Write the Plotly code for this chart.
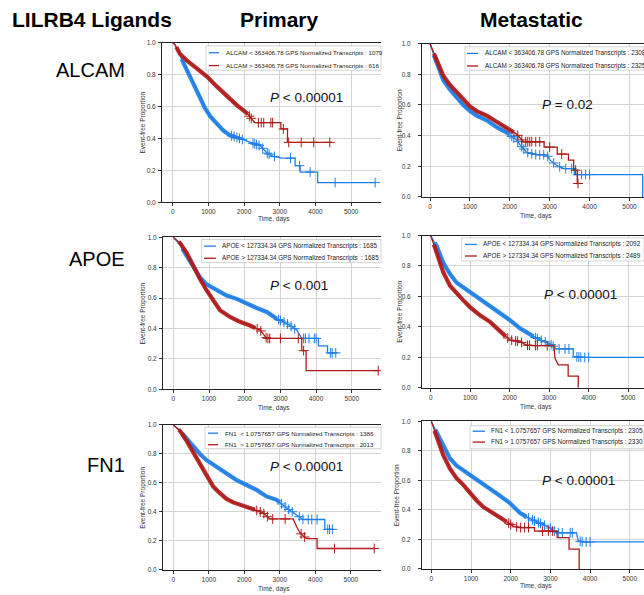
import numpy as np
import plotly.graph_objects as go

W, H = 644, 595
BLUE = "#1f7fe6"
RED = "#b01a1a"
FONT = "Liberation Sans, Arial, sans-serif"

# ---------------- labels ----------------
genes = ["ALCAM", "APOE", "FN1"]
cohorts = ["Primary", "Metastatic"]
figure_title = "LILRB4 Ligands"
p_values = ["<i>P</i> &lt; 0.00001", "<i>P</i> = 0.02",
            "<i>P</i> &lt; 0.001", "<i>P</i> &lt; 0.00001",
            "<i>P</i> &lt; 0.00001", "<i>P</i> &lt; 0.00001"]
legend_lo = ["ALCAM &lt; 363406.78 GPS Normalized Transcripts : 1079",
             "ALCAM &lt; 363406.78 GPS Normalized Transcripts : 2308",
             "APOE &lt; 127334.34 GPS Normalized Transcripts : 1685",
             "APOE &lt; 127334.34 GPS Normalized Transcripts : 2092",
             "FN1  &lt; 1.0757657 GPS Normalized Transcripts : 1386",
             "FN1 &lt; 1.0757657 GPS Normalized Transcripts : 2305"]
legend_hi = ["ALCAM &gt; 363406.78 GPS Normalized Transcripts : 616",
             "ALCAM &gt; 363406.78 GPS Normalized Transcripts : 2325",
             "APOE &gt; 127334.34 GPS Normalized Transcripts  : 1685",
             "APOE &gt; 127334.34 GPS Normalized Transcripts : 2489",
             "FN1  &gt; 1.0757657 GPS Normalized Transcripts : 2013",
             "FN1 &gt; 1.0757657 GPS Normalized Transcripts : 2330"]
x_ticks = [0, 1000, 2000, 3000, 4000, 5000]
y_ticks = [0.0, 0.2, 0.4, 0.6, 0.8, 1.0]

# ---------------- Kaplan-Meier curves (time in days, event-free proportion) ----------------
# ALCAM primary
alcam_pri_lo_t = [0, 60, 205, 392, 580, 766, 906, 1047, 1234, 1420, 1607, 1888, 2168, 2449, 2560, 2636, 2800, 2916, 3056, 3430, 3430, 3570, 3570, 4060, 4060, 5700]
alcam_pri_lo_s = [1.0, 0.99, 0.92, 0.83, 0.75, 0.665, 0.59, 0.54, 0.49, 0.45, 0.42, 0.40, 0.376, 0.355, 0.33, 0.31, 0.29, 0.283, 0.277, 0.277, 0.23, 0.23, 0.19, 0.19, 0.124, 0.124]
alcam_pri_lo_cens = [1650, 1720, 1800, 1870, 1950, 2250, 2300, 2350, 2420, 2520, 2650, 2700, 2850, 3300, 3550, 3850, 4550, 5670]
alcam_pri_hi_t = [0, 60, 205, 392, 673, 953, 1234, 1514, 1794, 2075, 2262, 2300, 3030, 3030, 3215, 3215, 4460]
alcam_pri_hi_s = [1.0, 0.99, 0.93, 0.89, 0.84, 0.79, 0.727, 0.665, 0.61, 0.56, 0.51, 0.50, 0.50, 0.46, 0.46, 0.376, 0.376]
alcam_pri_hi_cens = [2150, 2200, 2400, 2480, 2550, 2750, 2800, 3100, 3250, 3600, 3950, 4400]

# ALCAM metastatic
alcam_met_lo_t = [0, 167, 334, 502, 669, 836, 1003, 1171, 1421, 1672, 1923, 2174, 2258, 2425, 2676, 2926, 3010, 3177, 3344, 3620, 3620, 5330, 5330]
alcam_met_lo_s = [1.0, 0.87, 0.76, 0.70, 0.646, 0.60, 0.56, 0.53, 0.50, 0.455, 0.42, 0.37, 0.34, 0.29, 0.275, 0.275, 0.24, 0.206, 0.185, 0.185, 0.146, 0.146, 0.0]
alcam_met_lo_cens = [2050, 2100, 2200, 2300, 2350, 2450, 2550, 2650, 2750, 2850, 2950, 3100, 3250, 3400, 3550, 3700, 3800, 3900, 4000]
alcam_met_hi_t = [0, 167, 334, 502, 669, 836, 1003, 1171, 1421, 1672, 1923, 2174, 2341, 2860, 2860, 3190, 3190, 3470, 3470, 3600, 3600, 3690, 3690, 3720]
alcam_met_hi_s = [1.0, 0.89, 0.79, 0.73, 0.68, 0.635, 0.59, 0.56, 0.53, 0.49, 0.45, 0.41, 0.36, 0.36, 0.325, 0.325, 0.28, 0.28, 0.24, 0.24, 0.175, 0.175, 0.088, 0.088]
alcam_met_hi_cens = [2200, 2300, 2400, 2450, 2500, 2550, 2650, 2750, 3000, 3300, 3650, 3710]

# APOE primary
apoe_pri_lo_t = [0, 187, 374, 560, 748, 935, 1215, 1495, 1776, 2056, 2336, 2617, 2897, 3178, 3458, 3600, 4065, 4065, 4320, 4320, 4600]
apoe_pri_lo_s = [1.0, 0.95, 0.877, 0.80, 0.736, 0.69, 0.65, 0.617, 0.595, 0.563, 0.535, 0.509, 0.465, 0.433, 0.39, 0.335, 0.335, 0.286, 0.286, 0.24, 0.24]
apoe_pri_lo_cens = [2950, 3000, 3100, 3200, 3300, 3400, 3650, 3700, 3800, 3950, 4000, 4400, 4450, 4550]
apoe_pri_hi_t = [0, 187, 374, 560, 748, 935, 1121, 1308, 1589, 1869, 2150, 2430, 2617, 3598, 3598, 3720, 3720, 5750]
apoe_pri_hi_s = [1.0, 0.963, 0.898, 0.81, 0.725, 0.65, 0.584, 0.52, 0.476, 0.444, 0.42, 0.39, 0.335, 0.335, 0.255, 0.255, 0.123, 0.123]
apoe_pri_hi_cens = [2350, 2450, 2600, 2650, 2700, 3000, 3500, 3650, 5740]

# APOE metastatic
apoe_met_lo_t = [0, 152, 320, 489, 658, 826, 995, 1248, 1501, 1754, 2007, 2260, 2513, 2766, 3019, 3187, 3609, 3609, 3862, 5400]
apoe_met_lo_s = [1.0, 0.93, 0.82, 0.747, 0.69, 0.66, 0.628, 0.584, 0.54, 0.494, 0.444, 0.39, 0.35, 0.314, 0.29, 0.255, 0.255, 0.205, 0.199, 0.199]
apoe_met_lo_cens = [2650, 2700, 2800, 2900, 3050, 3100, 3250, 3400, 3500, 3700, 3750, 3800, 3900, 4000]
apoe_met_hi_t = [0, 152, 320, 489, 658, 826, 995, 1248, 1501, 1754, 2007, 2260, 2428, 2597, 3120, 3145, 3229, 3480, 3480, 3735, 3735]
apoe_met_hi_s = [1.0, 0.887, 0.758, 0.67, 0.617, 0.574, 0.53, 0.476, 0.433, 0.37, 0.314, 0.303, 0.28, 0.277, 0.277, 0.195, 0.15, 0.15, 0.076, 0.076, 0.0]
apoe_met_hi_cens = [1950, 2050, 2150, 2200, 2300, 2450, 2500, 2650, 2700, 2950]

# FN1 primary
fn1_pri_lo_t = [0, 188, 375, 563, 750, 938, 1220, 1501, 1782, 2064, 2345, 2627, 2908, 3190, 3471, 3659, 4268, 4268, 4503]
fn1_pri_lo_s = [1.0, 0.96, 0.905, 0.848, 0.80, 0.757, 0.71, 0.666, 0.62, 0.586, 0.552, 0.507, 0.484, 0.427, 0.382, 0.348, 0.348, 0.28, 0.28]
fn1_pri_lo_cens = [3050, 3150, 3250, 3350, 3550, 3650, 3800, 3900, 4050, 4350, 4400, 4480]
fn1_pri_hi_t = [0, 188, 375, 563, 750, 938, 1126, 1313, 1501, 1689, 1970, 2251, 2533, 2720, 3377, 3471, 3565, 3752, 4050, 4050, 5675]
fn1_pri_hi_s = [1.0, 0.96, 0.89, 0.81, 0.734, 0.643, 0.575, 0.53, 0.49, 0.466, 0.44, 0.42, 0.393, 0.352, 0.352, 0.30, 0.257, 0.216, 0.216, 0.148, 0.148]
fn1_pri_hi_cens = [2350, 2450, 2550, 2650, 2800, 3150, 3600, 3700, 4540, 5660]

# FN1 metastatic
fn1_met_lo_t = [0, 134, 302, 470, 638, 805, 973, 1225, 1477, 1728, 1980, 2231, 2483, 2735, 2987, 3154, 3658, 3700, 3825, 5400]
fn1_met_lo_s = [1.0, 0.926, 0.826, 0.748, 0.70, 0.67, 0.636, 0.59, 0.547, 0.496, 0.446, 0.38, 0.34, 0.31, 0.28, 0.245, 0.245, 0.19, 0.183, 0.183]
fn1_met_lo_cens = [2450, 2550, 2600, 2700, 2750, 2850, 3000, 3100, 3200, 3300, 3500, 3550, 3750, 3800, 3900, 4000]
fn1_met_hi_t = [0, 134, 302, 470, 638, 805, 973, 1141, 1309, 1560, 1812, 2064, 2231, 2600, 2600, 3170, 3170, 3470, 3470, 3725, 3725]
fn1_met_hi_s = [1.0, 0.893, 0.77, 0.68, 0.614, 0.57, 0.513, 0.464, 0.42, 0.38, 0.335, 0.29, 0.28, 0.28, 0.257, 0.257, 0.212, 0.212, 0.134, 0.134, 0.0]
fn1_met_hi_cens = [1950, 2000, 2150, 2250, 2350, 2450, 2800, 2950, 3050]

# time spans where censoring ticks are so dense they merge into a thick band
dense_lo = [(250, 1750), (100, 2000), (250, 2900), (100, 2600), (250, 3000), (100, 2400)]
dense_hi = [(100, 2100), (100, 2100), (150, 2300), (80, 1900), (150, 2300), (80, 1900)]

curves_lo = [(alcam_pri_lo_t, alcam_pri_lo_s, alcam_pri_lo_cens), (alcam_met_lo_t, alcam_met_lo_s, alcam_met_lo_cens),
             (apoe_pri_lo_t, apoe_pri_lo_s, apoe_pri_lo_cens), (apoe_met_lo_t, apoe_met_lo_s, apoe_met_lo_cens),
             (fn1_pri_lo_t, fn1_pri_lo_s, fn1_pri_lo_cens), (fn1_met_lo_t, fn1_met_lo_s, fn1_met_lo_cens)]
curves_hi = [(alcam_pri_hi_t, alcam_pri_hi_s, alcam_pri_hi_cens), (alcam_met_hi_t, alcam_met_hi_s, alcam_met_hi_cens),
             (apoe_pri_hi_t, apoe_pri_hi_s, apoe_pri_hi_cens), (apoe_met_hi_t, apoe_met_hi_s, apoe_met_hi_cens),
             (fn1_pri_hi_t, fn1_pri_hi_s, fn1_pri_hi_cens), (fn1_met_hi_t, fn1_met_hi_s, fn1_met_hi_cens)]

# ---------------- layout geometry (pixels) ----------------
# left spine, right edge, top (y=1), bottom (y=0), pixel of t=0, pixels per 1000 days
geom = [(162, 381, 39.3, 200.7, 172.7, 35.7),
        (422, 644, 40.0, 195.3, 430.0, 39.9),
        (163, 381, 236.0, 390.0, 173.3, 35.7),
        (422, 644, 234.3, 388.3, 430.7, 39.5),
        (163, 381, 426.0, 572.7, 173.3, 35.5),
        (422, 644, 422.3, 571.7, 431.3, 39.7)]
# legend: box left, box top, box bottom, sample x0, sample x1, text x, row1 y, row2 y, font size
leg_geom = [(206, 42.5, 67.0, 209, 219, 224, 49.3, 62.3, 6.2),
            (465, 43.3, 67.0, 467, 478, 483, 50.0, 62.7, 6.35),
            (201.7, 238.3, 261.7, 204, 216, 220, 245.0, 257.3, 6.3),
            (461.7, 236.7, 260.0, 465, 477, 481, 243.3, 255.0, 6.4),
            (205, 428.3, 450.0, 208, 218, 223, 434.3, 446.0, 6.2),
            (470, 426.7, 450.0, 472.7, 485, 489, 432.3, 443.3, 6.4)]
pval_pos = [(306, 95), (567.5, 101.7), (299, 285), (580, 294.3), (306.5, 468.3), (578, 482.3)]
xtitle_pos = [(274, 218), (536, 215), (274, 409), (536, 407.5), (274, 591.5), (536, 588.5)]
ytitle_x = [143, 400, 143.3, 400, 143.3, 397]


def px(x):
    return x / W


def py(y):
    return 1 - y / H


fig = go.Figure()
shapes, annotations = [], []


def add_curve(i, t, s, cens, dense, color):
    ax = "" if i == 0 else str(i + 1)
    t = np.asarray(t, float)
    s = np.asarray(s, float)
    # thick band where censor ticks are densely packed
    d0, d1 = dense
    inner = (t > d0) & (t < d1)
    bt = np.concatenate([[d0], t[inner], [d1]])
    bs = np.concatenate([[np.interp(d0, t, s)], s[inner], [np.interp(d1, t, s)]])
    fig.add_trace(go.Scatter(x=bt, y=bs, mode="lines", xaxis="x" + ax, yaxis="y" + ax,
                             line=dict(color=color, width=4.2), opacity=0.9,
                             showlegend=False, hoverinfo="skip"))
    fig.add_trace(go.Scatter(x=t, y=s, mode="lines", xaxis="x" + ax, yaxis="y" + ax,
                             line=dict(color=color, width=1.3), showlegend=False))
    c = np.asarray(cens, float)
    fig.add_trace(go.Scatter(x=c, y=np.interp(c, t, s), mode="markers", xaxis="x" + ax, yaxis="y" + ax,
                             marker=dict(symbol="cross-thin-open", size=7, color=color,
                                         line=dict(color=color, width=1)),
                             showlegend=False))


for i in range(6):
    L, R, T, B, x0, sc = geom[i]
    ax = "" if i == 0 else str(i + 1)
    add_curve(i, *curves_lo[i], dense_lo[i], BLUE)
    add_curve(i, *curves_hi[i], dense_hi[i], RED)
    xr = [(L - x0) / sc * 1000, (R - x0) / sc * 1000]
    common = dict(showgrid=True, gridcolor="#d4d4d4", gridwidth=0.8, zeroline=False,
                  showline=True, linecolor="#222222", linewidth=1,
                  ticks="outside", ticklen=3, tickwidth=0.8, tickcolor="#333333",
                  tickfont=dict(family=FONT, size=6.5, color="#333333"))
    fig.layout["xaxis" + ax] = dict(domain=[px(L), px(R)], range=xr, anchor="y" + ax,
                                    tickvals=x_ticks, ticktext=[str(v) for v in x_ticks],
                                    mirror=True, **common)
    fig.layout["yaxis" + ax] = dict(domain=[py(B), py(T)], range=[0, 1], anchor="x" + ax,
                                    tickvals=y_ticks, ticktext=[f"{v:.1f}" for v in y_ticks],
                                    ticklabelstandoff=(1 if i % 2 == 0 else 6), **common)

    # legend drawn by hand
    bl, bt_, bb, s0, s1, tx, y1, y2, fs = leg_geom[i]
    shapes.append(dict(type="rect", xref="paper", yref="paper", x0=px(bl), x1=px(R), y0=py(bb), y1=py(bt_),
                       line=dict(color="#c8c8c8", width=0.8), fillcolor="white", layer="above"))
    for yy, col, txt in ((y1, BLUE, legend_lo[i]), (y2, RED, legend_hi[i])):
        shapes.append(dict(type="line", xref="paper", yref="paper", x0=px(s0), x1=px(s1), y0=py(yy), y1=py(yy),
                           line=dict(color=col, width=1.3), layer="above"))
        annotations.append(dict(x=px(tx), y=py(yy), xref="paper", yref="paper", text=txt, showarrow=False,
                                xanchor="left", yanchor="middle", font=dict(family=FONT, size=fs, color="#222222")))
    # p value
    annotations.append(dict(x=px(pval_pos[i][0]), y=py(pval_pos[i][1]), xref="paper", yref="paper",
                            text=p_values[i], showarrow=False, xanchor="center", yanchor="middle",
                            font=dict(family=FONT, size=13.5, color="#111111")))
    # axis titles
    annotations.append(dict(x=px(xtitle_pos[i][0]), y=py(xtitle_pos[i][1]), xref="paper", yref="paper",
                            text="Time, days", showarrow=False, xanchor="center", yanchor="middle",
                            font=dict(family=FONT, size=6.5, color="#333333")))
    annotations.append(dict(x=px(ytitle_x[i]), y=py((T + B) / 2), xref="paper", yref="paper",
                            text="Event-free Proportion", showarrow=False, xanchor="center", yanchor="middle",
                            textangle=-90, font=dict(family=FONT, size=6.5, color="#333333")))

# headers
annotations.append(dict(x=px(92), y=py(16), xref="paper", yref="paper", text="<b>" + figure_title + "</b>",
                        showarrow=False, xanchor="center", yanchor="middle", font=dict(family=FONT, size=21, color="black")))
for name, cx in zip(cohorts, [279, 531.5]):
    annotations.append(dict(x=px(cx), y=py(16), xref="paper", yref="paper", text="<b>" + name + "</b>",
                            showarrow=False, xanchor="center", yanchor="middle",
                            font=dict(family=FONT, size=21, color="black")))
for name, cy in zip(genes, [67, 258, 466]):
    annotations.append(dict(x=px(127), y=py(cy), xref="paper", yref="paper", text=name,
                            showarrow=False, xanchor="right", yanchor="middle",
                            font=dict(family=FONT, size=20, color="black")))

fig.update_layout(width=W, height=H, margin=dict(l=0, r=0, t=0, b=0),
                  paper_bgcolor="white", plot_bgcolor="white",
                  shapes=shapes, annotations=annotations, showlegend=False)
fig.write_html("out.html", config={"displayModeBar": False},
               post_script="document.body.style.margin='0';document.body.style.overflow='hidden';")
